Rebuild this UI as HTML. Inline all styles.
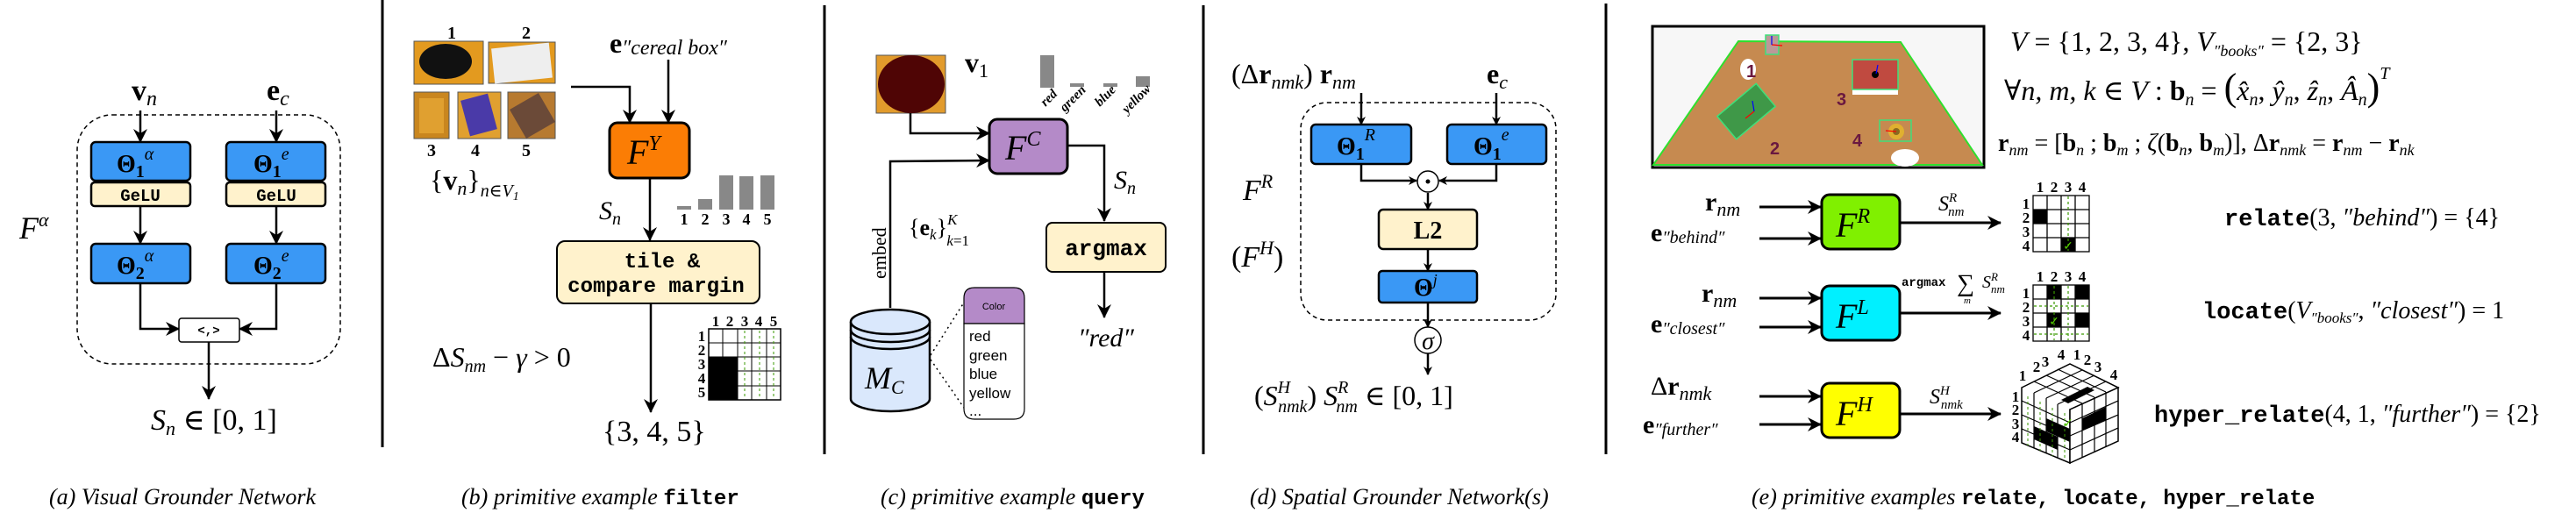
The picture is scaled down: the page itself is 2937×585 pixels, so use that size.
<!DOCTYPE html>
<html><head><meta charset="utf-8"><style>
html,body{margin:0;padding:0;background:#fff}
svg{display:block}
text{font-family:"Liberation Serif","DejaVu Serif",serif}
.m{font-family:"Liberation Mono","DejaVu Sans Mono",monospace;font-weight:bold}
.s{font-family:"Liberation Sans","DejaVu Sans",sans-serif}
.i{font-style:italic}
.cap{font-style:italic;font-size:26px}
</style></head><body>
<svg width="2937" height="585" viewBox="0 0 2937 585" xmlns="http://www.w3.org/2000/svg">
<defs>
<marker id="ar" markerWidth="10" markerHeight="10" refX="9" refY="5" orient="auto" markerUnits="userSpaceOnUse"><path d="M0,0 L10,5 L0,10 L3,5 z" fill="#000"/></marker>
<marker id="ab" markerWidth="16" markerHeight="16" refX="15" refY="8" orient="auto" markerUnits="userSpaceOnUse"><path d="M0,0 L16,8 L0,16 L5,8 z" fill="#000"/></marker>
</defs>
<g stroke="#000" stroke-width="3">
<line x1="436" y1="0" x2="436" y2="510"/>
<line x1="940" y1="6" x2="940" y2="518"/>
<line x1="1372" y1="6" x2="1372" y2="518"/>
<line x1="1831" y1="4" x2="1831" y2="518"/>
</g>

<!-- (a) -->
<text x="150" y="114" font-size="34" font-weight="bold">v<tspan class="i" font-weight="normal" font-size="24" dy="6">n</tspan></text>
<text x="304" y="114" font-size="34" font-weight="bold">e<tspan class="i" font-weight="normal" font-size="24" dy="6">c</tspan></text>
<rect x="88" y="131" width="300" height="284" rx="40" fill="none" stroke="#000" stroke-width="1.5" stroke-dasharray="5,4"/>
<text x="22" y="272" font-size="36" class="i">F<tspan font-size="22" dy="-14">α</tspan></text>
<g stroke="#000" stroke-width="2.5" fill="none" marker-end="url(#ab)">
<line x1="160" y1="126" x2="160" y2="162"/><line x1="315" y1="126" x2="315" y2="162"/>
<line x1="160" y1="235" x2="160" y2="278"/><line x1="315" y1="235" x2="315" y2="278"/>
<polyline points="160,323 160,375 204,375"/><polyline points="315,323 315,375 273,375"/>
<line x1="238" y1="390" x2="238" y2="455"/>
</g>
<g stroke="#000" stroke-width="2.5">
<rect x="104" y="162" width="113" height="44" rx="5" fill="#3a98f5"/>
<rect x="104" y="208" width="113" height="27" rx="4" fill="#fff2cc"/>
<rect x="258" y="162" width="113" height="44" rx="5" fill="#3a98f5"/>
<rect x="258" y="208" width="113" height="27" rx="4" fill="#fff2cc"/>
<rect x="104" y="278" width="113" height="45" rx="5" fill="#3a98f5"/>
<rect x="258" y="278" width="113" height="45" rx="5" fill="#3a98f5"/>
</g>
<rect x="204" y="363" width="69" height="27" rx="3" fill="#fff" stroke="#000" stroke-width="1.5"/>
<text x="238" y="381" font-size="14" text-anchor="middle" class="m" font-weight="normal">&lt;,&gt;</text>
<g font-size="28" font-weight="bold">
<text x="133" y="196">Θ<tspan font-size="20" dy="6">1</tspan><tspan class="i" font-weight="normal" font-size="20" dy="-20">α</tspan></text>
<text x="289" y="196">Θ<tspan font-size="20" dy="6">1</tspan><tspan class="i" font-weight="normal" font-size="20" dy="-20">e</tspan></text>
<text x="133" y="312">Θ<tspan font-size="20" dy="6">2</tspan><tspan class="i" font-weight="normal" font-size="20" dy="-20">α</tspan></text>
<text x="289" y="312">Θ<tspan font-size="20" dy="6">2</tspan><tspan class="i" font-weight="normal" font-size="20" dy="-20">e</tspan></text>
</g>
<text x="160" y="229" font-size="19" text-anchor="middle" class="m">GeLU</text>
<text x="315" y="229" font-size="19" text-anchor="middle" class="m">GeLU</text>
<text x="172" y="490" font-size="34"><tspan class="i">S</tspan><tspan class="i" font-size="22" dy="6">n</tspan><tspan dy="-6"> ∈ [0, 1]</tspan></text>
<text x="56" y="575" class="cap">(a) Visual Grounder Network</text>

<!-- (b) -->
<rect x="472" y="47" width="79" height="49" fill="#e39a1f" stroke="#555"/><ellipse cx="508" cy="70" rx="30" ry="20" fill="#111"/>
<rect x="557" y="48" width="76" height="47" fill="#e39a1f" stroke="#555"/><rect x="562" y="52" width="66" height="40" fill="#eee" transform="rotate(-6 595 72)"/>
<rect x="472" y="105" width="40" height="53" fill="#c9861f" stroke="#555"/><rect x="478" y="112" width="28" height="40" fill="#e0a030"/>
<rect x="522" y="105" width="49" height="53" fill="#e0a030" stroke="#555"/><rect x="530" y="110" width="32" height="42" fill="#4a3aa8" transform="rotate(-15 546 131)"/>
<rect x="579" y="105" width="54" height="53" fill="#b77a30" stroke="#555"/><rect x="588" y="113" width="38" height="38" fill="#6b4a38" transform="rotate(-30 607 132)"/>
<g font-size="20" font-weight="bold" text-anchor="middle"><text x="515" y="44">1</text><text x="600" y="44">2</text><text x="492" y="178">3</text><text x="542" y="178">4</text><text x="600" y="178">5</text></g>
<text x="490" y="216" font-size="32">{<tspan font-weight="bold">v</tspan><tspan class="i" font-size="22" dy="6">n</tspan><tspan dy="-6">}</tspan><tspan class="i" font-size="20" dy="8">n∈V</tspan><tspan class="i" font-size="14" dy="4">1</tspan></text>
<text x="695" y="60" font-size="32" font-weight="bold">e<tspan class="i" font-weight="normal" font-size="24" dy="2">″cereal box″</tspan></text>
<g stroke="#000" stroke-width="2.5" fill="none" marker-end="url(#ab)">
<polyline points="651,99 718,99 718,140"/><line x1="762" y1="68" x2="762" y2="140"/>
<line x1="741" y1="203" x2="741" y2="274"/><line x1="742" y1="347" x2="742" y2="470"/>
</g>
<rect x="695" y="140" width="91" height="63" rx="9" fill="#fb7d05" stroke="#000" stroke-width="3"/>
<text x="715" y="187" font-size="40" class="i">F<tspan font-size="24" dy="-16">Y</tspan></text>
<text x="683" y="250" font-size="30" class="i">S<tspan font-size="20" dy="6">n</tspan></text>
<g fill="#888"><rect x="772" y="235" width="16" height="4"/><rect x="796" y="227" width="16" height="12"/><rect x="820" y="200" width="16" height="39"/><rect x="843" y="201" width="16" height="38"/><rect x="867" y="200" width="16" height="39"/></g>
<g font-size="18" font-weight="bold" text-anchor="middle"><text x="780" y="256">1</text><text x="804" y="256">2</text><text x="828" y="256">3</text><text x="851" y="256">4</text><text x="875" y="256">5</text></g>
<rect x="635" y="275" width="231" height="71" rx="9" fill="#fff2cc" stroke="#000" stroke-width="2"/>
<text x="755" y="305" font-size="24" text-anchor="middle" class="m">tile &amp;</text>
<text x="748" y="333" font-size="24" text-anchor="middle" class="m">compare margin</text>
<text x="493" y="418" font-size="32">Δ<tspan class="i">S</tspan><tspan class="i" font-size="20" dy="6">nm</tspan><tspan dy="-6"> − </tspan><tspan class="i">γ</tspan> &gt; 0</text>
<text x="687" y="503" font-size="34">{3, 4, 5}</text>
<g>
<rect x="808" y="375" width="82" height="81" fill="#fff" stroke="#000" stroke-width="1.5"/>
<rect x="808" y="407" width="33" height="49" fill="#000"/>
<g stroke="#000" stroke-width="1"><line x1="824" y1="375" x2="824" y2="407"/><line x1="841" y1="375" x2="841" y2="456"/><line x1="857" y1="375" x2="857" y2="456"/><line x1="874" y1="375" x2="874" y2="456"/>
<line x1="808" y1="391" x2="890" y2="391"/><line x1="808" y1="407" x2="890" y2="407"/><line x1="841" y1="423" x2="890" y2="423"/><line x1="841" y1="440" x2="890" y2="440"/></g>
<g stroke="#3a9a00" stroke-width="1" stroke-dasharray="3,3"><line x1="849" y1="377" x2="849" y2="454"/><line x1="866" y1="377" x2="866" y2="454"/><line x1="882" y1="377" x2="882" y2="454"/></g>
<g font-size="17" font-weight="bold" text-anchor="middle"><text x="816" y="372">1</text><text x="832" y="372">2</text><text x="849" y="372">3</text><text x="865" y="372">4</text><text x="882" y="372">5</text>
<text x="800" y="389">1</text><text x="800" y="405">2</text><text x="800" y="421">3</text><text x="800" y="437">4</text><text x="800" y="453">5</text></g>
</g>
<text x="526" y="575" class="cap">(b) primitive example <tspan class="m" font-style="normal" font-size="24">filter</tspan></text>

<!-- (c) -->
<rect x="999" y="63" width="79" height="66" fill="#e29b2c" stroke="#555"/><ellipse cx="1039" cy="96" rx="38" ry="33" fill="#4f0505"/>
<text x="1100" y="82" font-size="32" font-weight="bold">v<tspan font-weight="normal" font-size="22" dy="6">1</tspan></text>
<g fill="#888"><rect x="1186" y="63" width="16" height="37"/><rect x="1220" y="95" width="16" height="4"/><rect x="1258" y="95" width="16" height="4"/><rect x="1295" y="87" width="16" height="12"/></g>
<g font-size="15" class="i" font-weight="bold"><text transform="translate(1192,122) rotate(-45)">red</text><text transform="translate(1214,128) rotate(-45)">green</text><text transform="translate(1254,122) rotate(-45)">blue</text><text transform="translate(1285,130) rotate(-45)">yellow</text></g>
<g stroke="#000" stroke-width="2.5" fill="none" marker-end="url(#ab)">
<polyline points="1038,129 1038,152 1128,152"/><polyline points="1015,351 1015,184 1128,183"/>
<polyline points="1217,166 1259,166 1259,252"/><line x1="1259" y1="310" x2="1259" y2="362"/>
</g>
<rect x="1128" y="136" width="89" height="62" rx="9" fill="#b48ac8" stroke="#000" stroke-width="3"/>
<text x="1146" y="182" font-size="40" class="i">F<tspan font-size="24" dy="-16">C</tspan></text>
<text x="1270" y="215" font-size="30" class="i">S<tspan font-size="20" dy="6">n</tspan></text>
<text transform="translate(1010,318) rotate(-90)" font-size="22">embed</text>
<text x="1036" y="268" font-size="26">{<tspan font-weight="bold">e</tspan><tspan class="i" font-size="17" dy="5">k</tspan><tspan dy="-5">}</tspan><tspan class="i" font-size="17" dy="-12">K</tspan><tspan class="i" font-size="17" dx="-12" dy="24">k</tspan><tspan font-size="17">=1</tspan></text>
<rect x="1193" y="254" width="136" height="56" rx="7" fill="#fff2cc" stroke="#000" stroke-width="2"/>
<text x="1261" y="291" font-size="26" text-anchor="middle" class="m">argmax</text>
<text x="1261" y="395" font-size="30" text-anchor="middle" class="i">″red″</text>
<path d="M970,367 L970,455 A45,14 0 0 0 1060,455 L1060,367" fill="#dae8fc" stroke="#000" stroke-width="2.5"/>
<ellipse cx="1015" cy="367" rx="45" ry="14" fill="#dae8fc" stroke="#000" stroke-width="2.5"/>
<path d="M970,376 A45,14 0 0 0 1060,376 M970,384 A45,14 0 0 0 1060,384" fill="none" stroke="#000" stroke-width="2.5"/>
<text x="986" y="443" font-size="36" class="i">M<tspan font-size="22" dy="6">C</tspan></text>
<g stroke="#000" stroke-width="1.5" stroke-dasharray="2,4"><line x1="1061" y1="405" x2="1099" y2="345"/><line x1="1061" y1="410" x2="1099" y2="465"/></g>
<path d="M1099,369 L1099,340 Q1099,328 1111,328 L1156,328 Q1168,328 1168,340 L1168,369 Z" fill="#b48ac8" stroke="#000" stroke-width="1.2"/>
<path d="M1099,369 L1168,369 L1168,466 Q1168,478 1156,478 L1111,478 Q1099,478 1099,466 Z" fill="#fff" stroke="#000" stroke-width="1.2"/>
<text x="1133" y="353" font-size="11" text-anchor="middle" style="font-family:'Liberation Sans',sans-serif">Color</text>
<g font-size="17"><text x="1105" y="389" style="font-family:'Liberation Sans',sans-serif">red</text><text x="1105" y="411" style="font-family:'Liberation Sans',sans-serif">green</text><text x="1105" y="432" style="font-family:'Liberation Sans',sans-serif">blue</text><text x="1105" y="454" style="font-family:'Liberation Sans',sans-serif">yellow</text><text x="1105" y="474" style="font-family:'Liberation Sans',sans-serif">...</text></g>
<text x="1004" y="575" class="cap">(c) primitive example <tspan class="m" font-style="normal" font-size="24">query</tspan></text>

<!-- (d) -->
<text x="1404" y="95" font-size="32">(Δ<tspan font-weight="bold">r</tspan><tspan class="i" font-size="22" dy="6">nmk</tspan><tspan dy="-6">)</tspan> <tspan font-weight="bold">r</tspan><tspan class="i" font-size="22" dy="6">nm</tspan></text>
<text x="1695" y="95" font-size="32" font-weight="bold">e<tspan class="i" font-weight="normal" font-size="22" dy="6">c</tspan></text>
<rect x="1483" y="117" width="291" height="248" rx="30" fill="none" stroke="#000" stroke-width="1.5" stroke-dasharray="5,4"/>
<g stroke="#000" stroke-width="2.5" fill="none" marker-end="url(#ar)">
<line x1="1552" y1="106" x2="1552" y2="142"/><line x1="1706" y1="106" x2="1706" y2="142"/>
<polyline points="1552,187 1552,206 1615,206"/><polyline points="1706,187 1706,206 1641,206"/>
<line x1="1628" y1="220" x2="1628" y2="239"/><line x1="1628" y1="284" x2="1628" y2="309"/>
<line x1="1628" y1="345" x2="1628" y2="373"/><line x1="1628" y1="403" x2="1628" y2="427"/>
</g>
<g stroke="#000" stroke-width="2.5">
<rect x="1495" y="142" width="114" height="45" rx="5" fill="#3a98f5"/>
<rect x="1650" y="142" width="113" height="45" rx="5" fill="#3a98f5"/>
<rect x="1572" y="239" width="112" height="45" rx="5" fill="#fff2cc"/>
<rect x="1572" y="309" width="112" height="36" rx="4" fill="#3a98f5"/>
</g>
<circle cx="1628" cy="207" r="12" fill="#fff" stroke="#000" stroke-width="1.5"/><circle cx="1628" cy="207" r="2.5"/>
<circle cx="1628" cy="388" r="15" fill="#fff" stroke="#000" stroke-width="1.5"/>
<text x="1628" y="398" font-size="28" class="i" text-anchor="middle">σ</text>
<g font-size="28" font-weight="bold">
<text x="1524" y="176">Θ<tspan font-size="20" dy="6">1</tspan><tspan class="i" font-weight="normal" font-size="20" dy="-22">R</tspan></text>
<text x="1680" y="176">Θ<tspan font-size="20" dy="6">1</tspan><tspan class="i" font-weight="normal" font-size="20" dy="-22">e</tspan></text>
<text x="1612" y="337">Θ<tspan class="i" font-weight="normal" font-size="18" dy="-12">j</tspan></text>
</g>
<text x="1628" y="272" font-size="28" font-weight="bold" text-anchor="middle">L2</text>
<text x="1417" y="228" font-size="34" class="i">F<tspan font-size="22" dy="-14">R</tspan></text>
<text x="1404" y="304" font-size="34">(<tspan class="i">F</tspan><tspan class="i" font-size="22" dy="-14">H</tspan><tspan dy="14">)</tspan></text>
<text x="1430" y="462" font-size="32">(<tspan class="i">S</tspan><tspan class="i" font-size="20" dy="-14">H</tspan><tspan class="i" font-size="20" dx="-14" dy="22">nmk</tspan><tspan dy="-8">)</tspan>  <tspan class="i">S</tspan><tspan class="i" font-size="20" dy="-14">R</tspan><tspan class="i" font-size="20" dx="-14" dy="22">nm</tspan><tspan dy="-8"> ∈ [0, 1]</tspan></text>
<text x="1425" y="575" class="cap">(d) Spatial Grounder Network(s)</text>

<!-- (e) photo -->
<rect x="1884" y="30" width="378" height="161" fill="#f7f7f7" stroke="#000" stroke-width="3"/>
<polygon points="1982,47 2167,48 2260,188 1885,188" fill="#c68a50" stroke="#2ee02e" stroke-width="2"/>
<ellipse cx="1993" cy="79" rx="9" ry="12" fill="#fff"/>
<rect x="2013" y="40" width="15" height="22" fill="#b99" stroke="#3ee07a" stroke-width="1.5"/>
<rect x="1968" y="122" width="24" height="30" fill="#fff" transform="rotate(-40 1980 137)"/>
<rect x="1962" y="110" width="58" height="34" fill="#3f9848" stroke="#3ee07a" stroke-width="1.5" transform="rotate(-40 1991 127)"/>
<rect x="2112" y="98" width="52" height="10" fill="#fff"/>
<rect x="2112" y="68" width="52" height="34" fill="#c04a40" stroke="#3ee07a" stroke-width="1.5"/>
<circle cx="2138" cy="85" r="4" fill="#000"/>
<rect x="2143" y="137" width="36" height="24" fill="none" stroke="#3ee07a" stroke-width="1.5"/><circle cx="2162" cy="150" r="9" fill="#e0b030"/><circle cx="2162" cy="150" r="4" fill="#8a6a20"/>
<ellipse cx="2172" cy="180" rx="16" ry="10" fill="#fff"/>
<g stroke-width="1.2"><line x1="2020" y1="51" x2="2032" y2="52" stroke="#f00"/><line x1="2020" y1="51" x2="2020" y2="41" stroke="#00f"/><line x1="2000" y1="127" x2="1990" y2="135" stroke="#f00"/><line x1="2000" y1="127" x2="1998" y2="115" stroke="#00f"/><line x1="2139" y1="84" x2="2141" y2="74" stroke="#00f"/><line x1="2162" y1="150" x2="2150" y2="149" stroke="#f00"/></g>
<g font-size="20" font-weight="bold"><text x="1991" y="88" class="s" fill="#6a1840">1</text><text x="2018" y="176" class="s" fill="#6a1840">2</text><text x="2094" y="120" class="s" fill="#6a1840">3</text><text x="2112" y="167" class="s" fill="#6a1840">4</text></g>
<text x="2292" y="58" font-size="32" class="i">V<tspan font-style="normal"> = {1, 2, 3, 4},  </tspan>V<tspan font-size="18" dy="6">″books″</tspan><tspan font-style="normal" dy="-6"> = {2, 3}</tspan></text>
<text x="2285" y="114" font-size="32">∀<tspan class="i">n, m, k</tspan> ∈ <tspan class="i">V</tspan> :  <tspan font-weight="bold">b</tspan><tspan class="i" font-size="20" dy="6">n</tspan><tspan dy="-6"> = </tspan><tspan font-size="44">(</tspan><tspan class="i">x̂</tspan><tspan class="i" font-size="20" dy="6">n</tspan><tspan dy="-6">, </tspan><tspan class="i">ŷ</tspan><tspan class="i" font-size="20" dy="6">n</tspan><tspan dy="-6">, </tspan><tspan class="i">ẑ</tspan><tspan class="i" font-size="20" dy="6">n</tspan><tspan dy="-6">, </tspan><tspan class="i">Â</tspan><tspan class="i" font-size="20" dy="6">n</tspan><tspan font-size="44" dy="-6">)</tspan><tspan class="i" font-size="20" dy="-24">T</tspan></text>
<text x="2278" y="172" font-size="28"><tspan font-weight="bold">r</tspan><tspan class="i" font-size="18" dy="5">nm</tspan><tspan dy="-5"> = [</tspan><tspan font-weight="bold">b</tspan><tspan class="i" font-size="18" dy="5">n</tspan><tspan dy="-5"> ; </tspan><tspan font-weight="bold">b</tspan><tspan class="i" font-size="18" dy="5">m</tspan><tspan dy="-5"> ; </tspan><tspan class="i">ζ</tspan>(<tspan font-weight="bold">b</tspan><tspan class="i" font-size="18" dy="5">n</tspan><tspan dy="-5">, </tspan><tspan font-weight="bold">b</tspan><tspan class="i" font-size="18" dy="5">m</tspan><tspan dy="-5">)],  Δ</tspan><tspan font-weight="bold">r</tspan><tspan class="i" font-size="18" dy="5">nmk</tspan><tspan dy="-5"> = </tspan><tspan font-weight="bold">r</tspan><tspan class="i" font-size="18" dy="5">nm</tspan><tspan dy="-5"> − </tspan><tspan font-weight="bold">r</tspan><tspan class="i" font-size="18" dy="5">nk</tspan></text>

<g stroke="#000" stroke-width="3" fill="none" marker-end="url(#ab)">
<line x1="2006" y1="236" x2="2076" y2="236"/><line x1="2006" y1="272" x2="2076" y2="272"/><line x1="2166" y1="254" x2="2281" y2="254"/>
<line x1="2006" y1="340" x2="2076" y2="340"/><line x1="2006" y1="373" x2="2076" y2="373"/><line x1="2166" y1="357" x2="2281" y2="357"/>
<line x1="2006" y1="452" x2="2076" y2="452"/><line x1="2006" y1="484" x2="2076" y2="484"/><line x1="2166" y1="472" x2="2281" y2="472"/>
</g>
<g stroke="#000" stroke-width="3">
<rect x="2077" y="222" width="89" height="62" rx="9" fill="#80f000"/>
<rect x="2077" y="326" width="89" height="62" rx="9" fill="#00f0ff"/>
<rect x="2077" y="437" width="89" height="62" rx="9" fill="#ffff00"/>
</g>
<text x="2093" y="270" font-size="40" class="i">F<tspan font-size="24" dy="-16">R</tspan></text>
<text x="2093" y="374" font-size="40" class="i">F<tspan font-size="24" dy="-16">L</tspan></text>
<text x="2093" y="485" font-size="40" class="i">F<tspan font-size="24" dy="-16">H</tspan></text>
<text x="1944" y="240" font-size="30" font-weight="bold">r<tspan class="i" font-weight="normal" font-size="22" dy="6">nm</tspan></text>
<text x="1882" y="275" font-size="30" font-weight="bold">e<tspan class="i" font-weight="normal" font-size="20" dy="2">″behind″</tspan></text>
<text x="1940" y="344" font-size="30" font-weight="bold">r<tspan class="i" font-weight="normal" font-size="22" dy="6">nm</tspan></text>
<text x="1882" y="379" font-size="30" font-weight="bold">e<tspan class="i" font-weight="normal" font-size="20" dy="2">″closest″</tspan></text>
<text x="1882" y="450" font-size="30">Δ<tspan font-weight="bold">r</tspan><tspan class="i" font-size="22" dy="6">nmk</tspan></text>
<text x="1873" y="494" font-size="30" font-weight="bold">e<tspan class="i" font-weight="normal" font-size="20" dy="2">″further″</tspan></text>
<text x="2210" y="240" font-size="24" class="i">S<tspan font-size="15" dy="-10">R</tspan><tspan font-size="15" dx="-10" dy="16">nm</tspan></text>
<text x="2168" y="326" font-size="14" class="m" font-weight="normal">argmax</text>
<text x="2231" y="332" font-size="28">∑</text><text x="2239" y="346" font-size="11" class="i">m</text>
<text x="2260" y="328" font-size="20" class="i">S<tspan font-size="13" dy="-8">R</tspan><tspan font-size="13" dx="-8" dy="14">nm</tspan></text>
<text x="2200" y="460" font-size="24" class="i">S<tspan font-size="15" dy="-10">H</tspan><tspan font-size="15" dx="-10" dy="16">nmk</tspan></text>

<!-- grids -->
<g font-size="17" font-weight="bold" text-anchor="middle">
<text x="2326" y="219">1</text><text x="2342" y="219">2</text><text x="2358" y="219">3</text><text x="2374" y="219">4</text>
<text x="2310" y="238">1</text><text x="2310" y="254">2</text><text x="2310" y="270">3</text><text x="2310" y="286">4</text>
<text x="2326" y="321">1</text><text x="2342" y="321">2</text><text x="2358" y="321">3</text><text x="2374" y="321">4</text>
<text x="2310" y="340">1</text><text x="2310" y="356">2</text><text x="2310" y="372">3</text><text x="2310" y="388">4</text>
</g>
<rect x="2318" y="239" width="16" height="16" fill="#000"/><rect x="2350" y="271" width="16" height="16" fill="#000"/>
<rect x="2334" y="325" width="16" height="16" fill="#000"/><rect x="2366" y="325" width="16" height="16" fill="#000"/>
<rect x="2334" y="357" width="16" height="16" fill="#000"/><rect x="2366" y="357" width="16" height="16" fill="#000"/>
<g fill="none" stroke="#000" stroke-width="1.3">
<rect x="2318" y="223" width="64" height="64"/><path d="M2334,223V287M2350,223V287M2366,223V287M2318,239H2382M2318,255H2382M2318,271H2382"/>
<rect x="2318" y="325" width="64" height="64"/><path d="M2334,325V389M2350,325V389M2366,325V389M2318,341H2382M2318,357H2382M2318,373H2382"/>
</g>
<g stroke="#3a9a00" stroke-dasharray="3,3" stroke-width="1.2"><path d="M2358,224V286"/><path d="M2342,326V388M2358,326V388M2319,349H2381M2319,381H2381"/></g>
<text x="2358" y="285" font-size="14" fill="#5c0" text-anchor="middle">✓</text>
<text x="2342" y="371" font-size="14" fill="#5c0" text-anchor="middle">✓</text>

<!-- cube -->
<g fill="none" stroke="#000" stroke-width="1.5">
<polygon points="2305,442 2360,415 2415,442 2360,467 2360,528 2305,505" fill="#fff"/>
<polygon points="2360,467 2415,442 2415,503 2360,528" fill="#fff"/>
</g>
<polygon points="2350,456 2380,441 2388,445 2358,460" fill="#000"/>
<polygon points="2319,486 2346,498 2346,513 2319,501" fill="#000"/>
<polygon points="2333,477 2360,489 2360,504 2333,492" fill="#000"/>
<polygon points="2374,477 2401,464 2401,479 2374,491" fill="#000"/>
<g stroke="#000" stroke-width="1.2">
<path d="M2319,435L2374,460M2333,428L2388,453M2346,421L2401,447M2319,448L2374,422M2333,454L2388,428M2346,461L2401,435"/>
<path d="M2319,448V511M2333,454V517M2346,461V522M2305,457L2360,482M2305,473L2360,497M2305,489L2360,513"/>
<path d="M2374,460V522M2388,453V516M2401,447V510M2360,482L2415,457M2360,497L2415,473M2360,513L2415,488"/>
</g>
<g stroke="#3a9a00" stroke-dasharray="3,3" stroke-width="1"><path d="M2312,452V508M2326,458V514M2340,465V520M2354,471V525"/></g>
<text x="2358" y="487" font-size="14" fill="#5c0" text-anchor="middle">✓</text>
<g font-size="17" font-weight="bold" text-anchor="middle">
<text x="2306" y="434">1</text><text x="2322" y="424">2</text><text x="2332" y="418">3</text><text x="2350" y="410">4</text>
<text x="2368" y="410">1</text><text x="2380" y="416">2</text><text x="2392" y="424">3</text><text x="2410" y="433">4</text>
<text x="2298" y="458">1</text><text x="2298" y="473">2</text><text x="2298" y="489">3</text><text x="2298" y="504">4</text>
</g>

<text x="2536" y="257" font-size="28"><tspan class="m" font-size="27">relate</tspan>(3, <tspan class="i">″behind″</tspan>) = {4}</text>
<text x="2511" y="363" font-size="28"><tspan class="m" font-size="27">locate</tspan>(<tspan class="i">V</tspan><tspan class="i" font-size="17" dy="5">″books″</tspan><tspan dy="-5">, </tspan><tspan class="i">″closest″</tspan>) = 1</text>
<text x="2456" y="481" font-size="28"><tspan class="m" font-size="27">hyper_relate</tspan>(4, 1, <tspan class="i">″further″</tspan>) = {2}</text>
<text x="1997" y="575" class="cap">(e) primitive examples <tspan class="m" font-style="normal" font-size="24">relate, locate, hyper_relate</tspan></text>
</svg>
</body></html>
